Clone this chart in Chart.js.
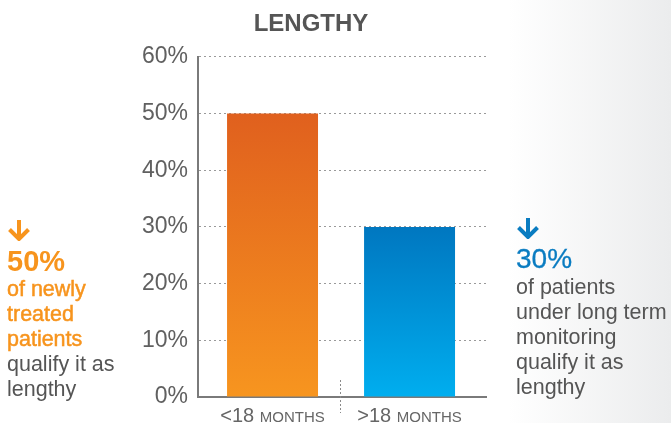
<!DOCTYPE html>
<html>
<head>
<meta charset="utf-8">
<script src="https://cdn.jsdelivr.net/npm/chart.js@4"></script>
<style>
  html, body {
    margin: 0;
    padding: 0;
  }
  body {
    width: 671px;
    height: 423px;
    position: relative;
    overflow: hidden;
    font-family: "Liberation Sans", Arial, Helvetica, sans-serif;
    background: linear-gradient(to right, #ffffff 0px, #ffffff 508px, #ebeced 671px);
  }
  #wrap {
    position: absolute;
    left: 0;
    top: 0;
    width: 671px;
    height: 423px;
  }
  .note {
    position: absolute;
    font-size: 21.5px;
    line-height: 25px;
    color: #555555;
  }
  .note svg {
    display: block;
  }
  #leftNote {
    left: 7px;
    top: 220px;
  }
  #rightNote {
    left: 516px;
    top: 218px;
  }
  #leftNote .pct {
    font-size: 29px;
    font-weight: bold;
    line-height: 32px;
    color: #f7941d;
    margin-top: 4px;
  }
  #leftNote .hl {
    color: #f7941d;
    -webkit-text-stroke: 0.5px #f7941d;
  }
  #rightNote .pct {
    font-size: 28px;
    line-height: 32px;
    color: #0a7cc1;
    margin-top: 4px;
    -webkit-text-stroke: 0.3px #0a7cc1;
  }
</style>
</head>
<body>
<div id="wrap"><canvas id="chart"></canvas></div>

<div class="note" id="leftNote">
  <svg width="24" height="21" viewBox="0 0 24 21">
    <path d="M12 0 V18 M2.5 9.5 L12 19 L21.5 9.5" fill="none" stroke="#f7941d" stroke-width="4"/>
  </svg>
  <div class="pct" id="leftPct"></div>
  <div class="hl">of newly<br>treated<br>patients</div>
  <div>qualify it as<br>lengthy</div>
</div>

<div class="note" id="rightNote">
  <svg width="24" height="21" viewBox="0 0 24 21">
    <path d="M12 0 V18 M2.5 9.5 L12 19 L21.5 9.5" fill="none" stroke="#0a7cc1" stroke-width="4"/>
  </svg>
  <div class="pct" id="rightPct"></div>
  <div>of patients<br>under long term<br>monitoring<br>qualify it as<br>lengthy</div>
</div>

<script>
const chartTitle = "LENGTHY";
const categories = ["<18", ">18"];
const unitLabel = "MONTHS";
const values = [50, 30];
const yTicks = [0, 10, 20, 30, 40, 50, 60];

const topColors = ["#e0601e", "#0077c0"];
const bottomColors = ["#f7951f", "#00aeef"];
const fontFamily = "'Liberation Sans', Arial, Helvetica, sans-serif";

document.getElementById("leftPct").textContent = values[0] + "%";
document.getElementById("rightPct").textContent = values[1] + "%";

function barFill(context){
    const i = context.dataIndex || 0;
    const chart = context.chart;
    const area = chart.chartArea;
    if(!area){
        return topColors[i];
    }
    const top = chart.scales.y.getPixelForValue(values[i]);
    const g = chart.ctx.createLinearGradient(0, top, 0, area.bottom);
    g.addColorStop(0, topColors[i]);
    g.addColorStop(1, bottomColors[i]);
    return g;
}

// x labels with small caps unit and the dotted separator between them
const categoryLabels = {
    id: "categoryLabels",
    afterDraw(chart){
        const ctx = chart.ctx;
        const x = chart.scales.x;
        const area = chart.chartArea;

        ctx.save();
        ctx.strokeStyle = "#8a8a8a";
        ctx.lineWidth = 1;
        ctx.setLineDash([2, 2]);
        const sx = Math.round(x.getPixelForValue(0.5)) - 0.5;
        ctx.beginPath();
        ctx.moveTo(sx, area.bottom - 17);
        ctx.lineTo(sx, area.bottom + 16);
        ctx.stroke();
        ctx.restore();

        ctx.save();
        ctx.fillStyle = "#666666";
        ctx.textBaseline = "alphabetic";
        ctx.textAlign = "left";
        categories.forEach((cat, i) => {
            const big = "20px " + fontFamily;
            const small = "15px " + fontFamily;
            ctx.font = big;
            const w1 = ctx.measureText(cat + " ").width;
            ctx.font = small;
            const w2 = ctx.measureText(unitLabel).width;
            const cx = x.getPixelForValue(i);
            const left = cx - (w1 + w2) / 2;
            const base = area.bottom + 25;
            ctx.font = big;
            ctx.fillText(cat + " ", left, base);
            ctx.font = small;
            ctx.fillText(unitLabel, left + w1, base);
        });
        ctx.restore();
    }
};

new Chart(document.getElementById("chart"), {
    type: "bar",
    data: {
        datasets: [{
            data: values.map((v, i) => ({ x: i, y: v })),
            backgroundColor: barFill,
            borderWidth: 0,
            barPercentage: 0.664,
            categoryPercentage: 1
        }]
    },
    options: {
        responsive: true,
        maintainAspectRatio: false,
        animation: false,
        layout: {
            padding: { left: 136, right: 185, top: 0, bottom: 26 }
        },
        plugins: {
            legend: { display: false },
            tooltip: { enabled: false },
            title: {
                display: true,
                text: chartTitle,
                color: "#555555",
                font: { family: fontFamily, size: 24, weight: "bold" },
                padding: { top: 10, bottom: 18 }
            }
        },
        scales: {
            x: {
                type: "linear",
                min: -0.544,
                max: 1.558,
                offset: false,
                afterBuildTicks: (scale) => {
                    scale.ticks = categories.map((c, i) => ({ value: i }));
                },
                afterFit: (scale) => {
                    scale.height = 0;
                },
                ticks: { display: false },
                grid: { display: false },
                border: { display: true, color: "#7a7a7a", width: 2 }
            },
            y: {
                min: 0,
                max: 60,
                afterBuildTicks: (scale) => {
                    scale.ticks = yTicks.map(v => ({ value: v }));
                },
                afterFit: (scale) => {
                    scale.width = 62;
                },
                ticks: {
                    padding: 10,
                    color: "#606060",
                    font: { family: fontFamily, size: 23 },
                    callback: (v) => v + "%"
                },
                grid: {
                    color: "#9a9a9a",
                    lineWidth: 1,
                    drawTicks: false
                },
                border: { display: true, color: "#7a7a7a", width: 2, dash: [2, 3] }
            }
        }
    },
    plugins: [categoryLabels]
});
</script>
</body>
</html>
